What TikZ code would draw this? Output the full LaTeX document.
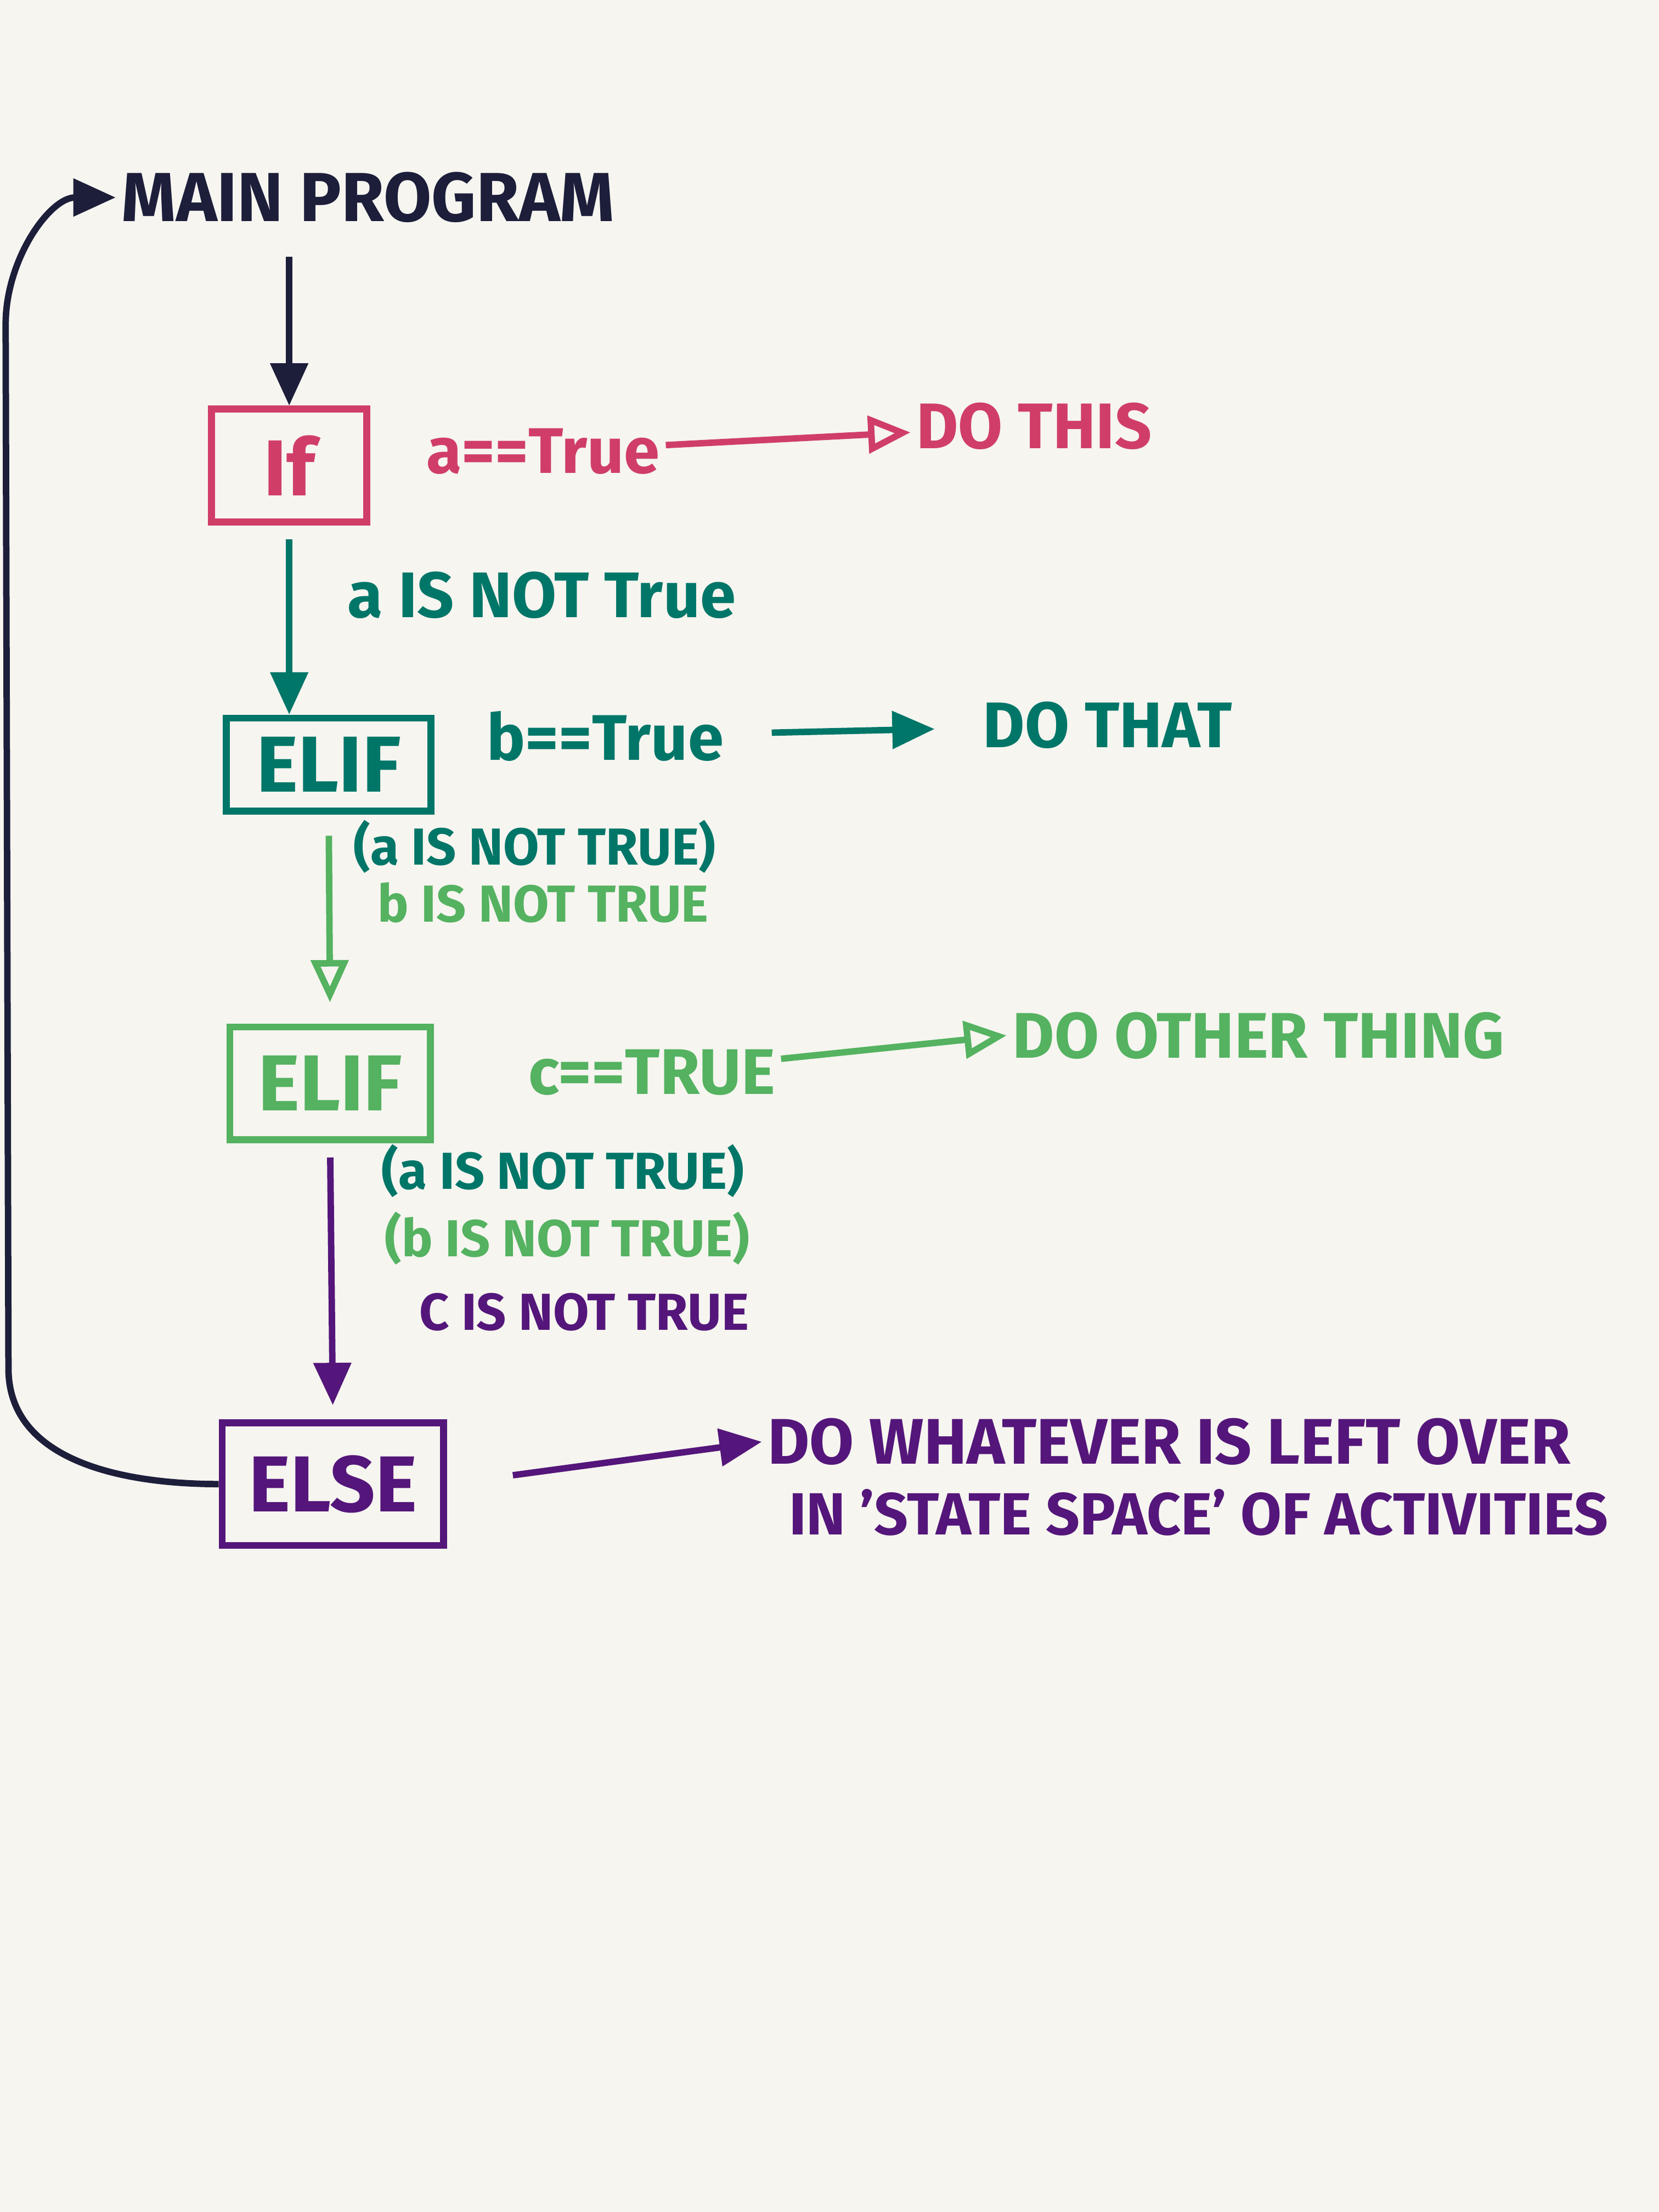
\documentclass[tikz,border=0pt]{standalone}
\usepackage{fontspec}
\setmainfont{Fira Sans}
\usetikzlibrary{arrows.meta,positioning}
\definecolor{paper}{RGB}{246,245,240}
\definecolor{ink}{RGB}{28,30,58}
\definecolor{pinkink}{RGB}{208,62,104}
\definecolor{tealink}{RGB}{0,118,104}
\definecolor{greenink}{RGB}{84,178,96}
\definecolor{purpleink}{RGB}{84,22,122}

\begin{document}
\begin{tikzpicture}[
        box/.style={draw, line width=1.4pt, inner sep=2pt, font=\bfseries\fontsize{16}{16}\selectfont},
        txt/.style={inner sep=1pt, font=\bfseries\fontsize{13}{13}\selectfont},
        note/.style={inner sep=1pt, font=\bfseries\fontsize{10.5}{10.5}\selectfont},
        arr/.style={line width=1.3pt, -{Triangle[length=3mm,width=2.6mm]}},
        openarr/.style={line width=1.3pt, -{Triangle[open,length=3mm,width=2.6mm]}}
    ]
            % paper
            \fill[paper] (0,0) rectangle (11.76,-15.68);
            \useasboundingbox (0,0) rectangle (11.76,-15.68);

            \node[txt, ink, anchor=west, font=\bfseries\fontsize{14}{14}\selectfont] (main) at (0.82,-1.40) {MAIN PROGRAM};

            % if
            \node[box, pinkink, minimum width=1.1cm, minimum height=0.8cm] (if) at (2.05,-3.30) {If};
            \node[txt, pinkink] (acond) at (3.85,-3.20) {a==True};
            \node[txt, pinkink] (dothis) at (7.33,-3.02) {DO THIS};
            \node[txt, tealink] (anot) at (3.84,-4.22) {a IS NOT True};

            % first elif
            \node[box, tealink, minimum width=1.45cm, minimum height=0.66cm] (elifb) at (2.33,-5.42) {ELIF};
            \node[txt, tealink] (bcond) at (4.29,-5.22) {b==True};
            \node[txt, tealink] (dothat) at (7.85,-5.14) {DO THAT};
            \node[note, tealink] (anotb) at (3.79,-6.00) {(a IS NOT TRUE)};
            \node[note, greenink] (bnot) at (3.85,-6.40) {b IS NOT TRUE};

            % second elif
            \node[box, greenink, minimum width=1.42cm, minimum height=0.8cm] (elifc) at (2.34,-7.68) {ELIF};
            \node[txt, greenink] (ccond) at (4.62,-7.60) {c==TRUE};
            \node[txt, greenink] (doother) at (8.92,-7.34) {DO OTHER THING};
            \node[note, tealink] (anotc) at (3.99,-8.30) {(a IS NOT TRUE)};
            \node[note, greenink] (bnotc) at (4.02,-8.78) {(b IS NOT TRUE)};
            \node[note, purpleink] (cnot) at (4.14,-9.30) {C IS NOT TRUE};

            % else
            \node[box, purpleink, minimum width=1.57cm, minimum height=0.87cm] (else) at (2.36,-10.52) {ELSE};
            \node[txt, purpleink, anchor=west] (over) at (5.40,-10.22) {DO WHATEVER IS LEFT OVER};
            \node[txt, purpleink, anchor=west, font=\bfseries\fontsize{12}{12}\selectfont] (space) at (5.55,-10.72) {IN 'STATE SPACE' OF ACTIVITIES};

            % flow
            \draw[arr, ink, shorten <=2mm] (if.north |- main.south) -- (if.north);
            \draw[openarr, pinkink] (acond) -- (dothis);
            \draw[arr, tealink, shorten <=1mm] (if.south) -- (if.south |- elifb.north);
            \draw[arr, tealink, shorten <=3mm, shorten >=3mm] (bcond) -- (dothat);
            \draw[openarr, greenink, shorten <=1.5mm, shorten >=1.5mm] (elifb.south) -- (elifc.north);
            \draw[openarr, greenink] (ccond) -- (doother.west);
            \draw[arr, purpleink, shorten <=1mm, shorten >=1mm] (elifc.south) -- (else.north);
            \draw[arr, purpleink, shorten <=4.7mm] (else.east) -- (over.west);

            % loop back
            \coordinate (loopbot) at (0.06,-9.70);
            \coordinate (looptop) at (0.04,-2.30);
            \draw[arr, ink] (else.west) to[out=180,in=-90] (loopbot) -- (looptop) to[out=90,in=180] (main.west);
        \end{tikzpicture}
\end{document}
